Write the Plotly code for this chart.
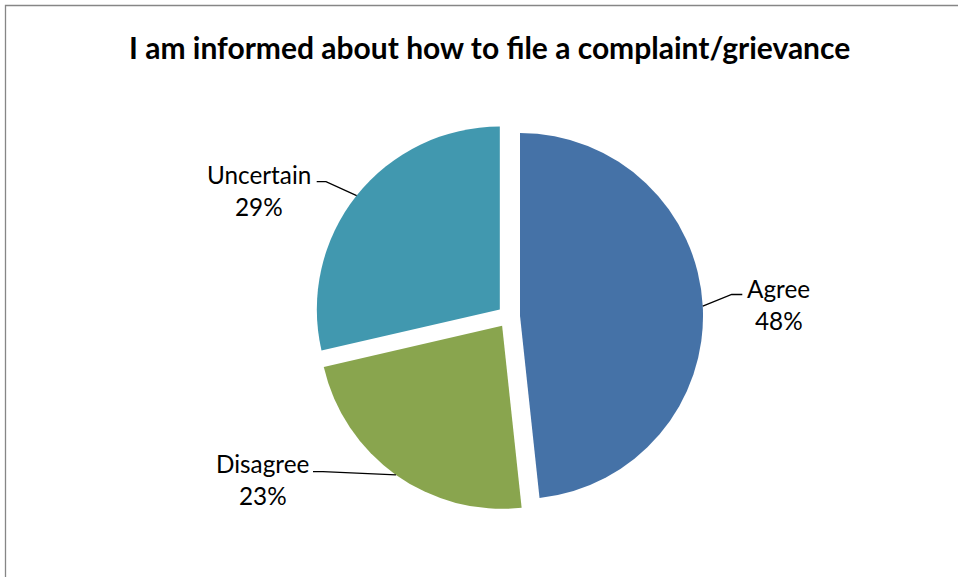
import math
import plotly.graph_objects as go

# ---- data ----
categories = ["Agree", "Disagree", "Uncertain"]
values = [48.3, 23.1, 28.6]
colors = ["#4572A7", "#89A54E", "#4198AF"]
title_text = "I am informed about how to file a complaint/grievance"

# ---- layout constants (pixels) ----
W, H = 958, 577
CX, CY = 508.7, 316.6      # pie centre
R = 183.0                  # slice radius
PULL = 0.062
label_name_pos = {"Agree": (778.5, 288), "Disagree": (262.7, 463), "Uncertain": (258.5, 174)}
line_end = {"Agree": (742.3, 294.5), "Disagree": (313.0, 471.7), "Uncertain": (316.7, 181.7)}
elbow_dx = {"Agree": -10.6, "Disagree": 10.0, "Uncertain": 9.3}
PCT_DY = 32
FONT = "Lato"
LABEL_SIZE = 24.3
TITLE_SIZE = 30

box_half = R * (1 + PULL)
dom_x = [(CX - 250) / W, (CX + 250) / W]
dom_y = [1 - (CY + box_half) / H, 1 - (CY - box_half) / H]

def px(x):
    return x / W

def py(y):
    return 1 - y / H

fig = go.Figure(go.Pie(
    labels=categories, values=values, sort=False, direction="clockwise", rotation=0,
    pull=[PULL] * len(values), marker=dict(colors=colors, line=dict(width=0)),
    textinfo="none", hoverinfo="label+percent", showlegend=False,
    domain=dict(x=dom_x, y=dom_y),
))

total = sum(values)
cum = 0.0
annotations = []
shapes = []
for cat, v in zip(categories, values):
    mid = (cum + v / 2) / total * 2 * math.pi
    cum += v
    dx, dy = math.sin(mid), -math.cos(mid)
    ax, ay = CX + box_half * dx, CY + box_half * dy
    ex, ey = line_end[cat]
    bx = ex + elbow_dx[cat]
    shapes.append(dict(type="path", xref="paper", yref="paper",
                       path=f"M {px(ex)} {py(ey)} L {px(bx)} {py(ey)} L {px(ax)} {py(ay)}",
                       line=dict(color="black", width=1.3)))
    nx, ny = label_name_pos[cat]
    pct = round(v / total * 100)
    annotations.append(dict(text=cat, x=px(nx), y=py(ny), xref="paper", yref="paper",
                            xanchor="center", yanchor="middle", showarrow=False,
                            font=dict(family=FONT, size=LABEL_SIZE, color="black")))
    annotations.append(dict(text=f"{pct}%", x=px(nx), y=py(ny + PCT_DY), xref="paper", yref="paper",
                            xanchor="center", yanchor="middle", showarrow=False,
                            font=dict(family=FONT, size=LABEL_SIZE, color="black")))

annotations.append(dict(text=f"<b>{title_text}</b>", x=px(489), y=py(47), xref="paper", yref="paper",
                        xanchor="center", yanchor="middle", showarrow=False,
                        font=dict(family=FONT, size=TITLE_SIZE, color="black")))

shapes.append(dict(type="rect", xref="paper", yref="paper",
                   x0=px(5.5), y0=py(5.5), x1=px(975), y1=py(600),
                   line=dict(color="#868686", width=1.3), layer="below"))

fig.update_layout(
    width=W, height=H, margin=dict(l=0, r=0, t=0, b=0),
    paper_bgcolor="white", plot_bgcolor="white",
    annotations=annotations, shapes=shapes,
)
fig.write_html("out.html", config={"displayModeBar": False},
               post_script="document.body.style.margin='0';document.body.style.overflow='hidden';")
